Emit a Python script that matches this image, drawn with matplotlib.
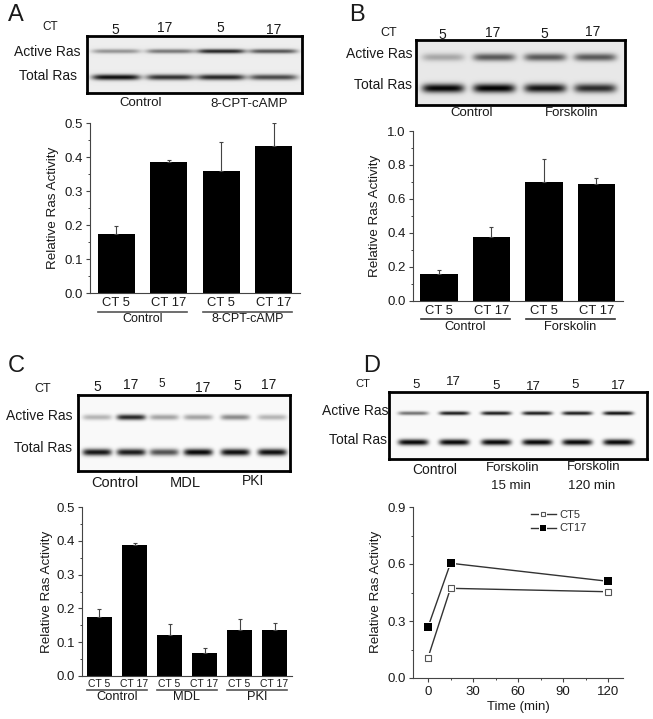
import numpy as np
import matplotlib
matplotlib.use("Agg")
import matplotlib.pyplot as plt
from matplotlib.legend_handler import HandlerTuple
from matplotlib.ticker import MultipleLocator

plt.rcParams['font.family'] = ['Liberation Sans', 'DejaVu Sans']

W, H = 653, 719

# Bar values
labels_2 = ["CT 5", "CT 17", "CT 5", "CT 17"]
labels_3 = ["CT 5", "CT 17", "CT 5", "CT 17", "CT 5", "CT 17"]

a_values = [0.174, 0.387, 0.360, 0.432]
a_errors = [0.025, 0.005, 0.085, 0.068]
a_groups = ["Control", "8-CPT-cAMP"]

b_values = [0.157, 0.373, 0.697, 0.690]
b_errors = [0.022, 0.059, 0.140, 0.031]
b_groups = ["Control", "Forskolin"]

c_values = [0.174, 0.387, 0.121, 0.068, 0.135, 0.135]
c_errors = [0.024, 0.006, 0.034, 0.015, 0.035, 0.023]
c_groups = ["Control", "MDL", "PKI"]

# Time course, panel D
d_time = [0, 15, 120]
d_ct5 = [0.107, 0.472, 0.454]
d_ct17 = [0.268, 0.604, 0.509]

# Band darkness on the blots, 0 = nothing, 1 = black
a_active = [0.38, 0.50, 0.85, 0.65]
a_total = [0.95, 0.80, 0.85, 0.70]
b_active = [0.28, 0.62, 0.62, 0.62]
b_total = [0.98, 1.00, 0.92, 0.82]
c_active = [0.28, 0.85, 0.35, 0.35, 0.45, 0.28]
c_total = [0.92, 0.90, 0.68, 0.98, 0.95, 0.95]
d_active = [0.55, 0.90, 0.90, 0.90, 0.90, 0.95]
d_total = [0.98, 0.98, 0.98, 0.98, 0.98, 0.98]

fig = plt.figure(figsize=(W / 100, H / 100), dpi=100)


def px_axes(left, top, right, bottom, **kw):
    return fig.add_axes([left / W, 1 - bottom / H, (right - left) / W, (bottom - top) / H], **kw)


def label(x, y, s, size=9.5, ha='center', **kw):
    fig.text(x / W, 1 - y / H, s, fontsize=size, ha=ha, va='center', color='#1a1a1a', **kw)


def draw_blot(frame, lanes, half_width, active_y, total_y, active, total, active_sy, total_sy, bg):
    left, top, right, bottom = frame
    ax = px_axes(left, top, right, bottom)
    yy, xx = np.mgrid[top:bottom:0.5, left:right:0.5]
    img = np.full(xx.shape, bg)
    for y0, dark, sy in [(active_y, active, active_sy), (total_y, total, total_sy)]:
        for x0, d in zip(lanes, dark):
            across = np.exp(-((xx - x0) / half_width) ** 6)
            down = np.exp(-((yy - y0) / sy) ** 2)
            img -= bg * d * across * down
    ax.imshow(img, cmap='gray', vmin=0, vmax=1, aspect='auto', extent=(left, right, bottom, top),
              interpolation='bilinear')
    ax.set_xticks([])
    ax.set_yticks([])
    for s in ax.spines.values():
        s.set_linewidth(2.0)
        s.set_color('black')


def style_axis(ax, major, minor, size=9.5):
    ax.spines['top'].set_visible(False)
    ax.spines['right'].set_visible(False)
    ax.spines['left'].set_color('#444444')
    ax.spines['bottom'].set_color('#444444')
    ax.yaxis.set_major_locator(MultipleLocator(major))
    ax.yaxis.set_minor_locator(MultipleLocator(minor))
    ax.tick_params(axis='y', which='major', length=3, width=0.8, color='#444444', labelsize=size,
                   labelcolor='#1a1a1a', pad=2)
    ax.tick_params(axis='y', which='minor', length=1.5, width=0.7, color='#444444')


def draw_bars(box, values, errors, ticks, groups, ymax, major, minor, tick_size, ylabel_x,
              line_y, group_y, line_color='#333333', group_size=9.3, tick_pad=3):
    ax = px_axes(*box)
    x = np.arange(1, len(values) + 1)
    ax.bar(x, values, width=0.71, color='black')
    ax.errorbar(x, values, yerr=[np.zeros(len(errors)), errors], fmt='none', ecolor='#444444',
                elinewidth=0.8, capsize=1.6, capthick=0.8)
    ax.set_xlim(0.5, len(values) + 0.5)
    ax.set_ylim(0, ymax)
    style_axis(ax, major, minor)
    ax.set_xticks(x, ticks)
    ax.tick_params(axis='x', length=0, labelsize=tick_size, labelcolor='#1a1a1a', pad=tick_pad)
    label(ylabel_x, (box[1] + box[3]) / 2, "Relative Ras Activity", size=9.7, rotation=90)
    # group underlines and names below the tick labels
    unit = (box[2] - box[0]) / len(values)
    for i, name in enumerate(groups):
        x0 = box[0] + unit * (2 * i + 0.15)
        x1 = box[0] + unit * (2 * i + 1.85)
        fig.add_artist(plt.Line2D([x0 / W, x1 / W], [1 - line_y / H, 1 - line_y / H],
                                  color=line_color, lw=1.2))
        label((x0 + x1) / 2, group_y, name, size=group_size)
    return ax


# Panel A
label(16, 15, "A", size=17)
draw_blot((87, 36, 302, 93), [116, 170, 221, 273], 24, 51, 77, a_active, a_total, 2.2, 2.8, 0.93)
label(50, 27, "CT", size=8.5)
for xt, yt, s in [(115, 30, "5"), (165, 28, "17"), (220, 28, "5"), (274, 30, "17")]:
    label(xt, yt, s, size=10)
label(80, 52, "Active Ras", size=10, ha='right')
label(77, 76, "Total Ras", size=10, ha='right')
label(141, 103, "Control", size=9.5)
label(249, 104, "8-CPT-cAMP", size=9.5)
draw_bars((90, 123.3, 300, 293.3), a_values, a_errors, labels_2, a_groups, 0.5, 0.1, 0.05, 9.4,
          53, 312, 319, line_color='#555555', group_size=9)

# Panel B
label(357, 15, "B", size=17)
draw_blot((416, 40, 625, 105), [443, 494, 545, 595], 21, 57, 88, b_active, b_total, 3.8, 4.4, 0.91)
label(389, 33, "CT", size=9)
for xt, yt, s in [(442, 35, "5"), (493, 33, "17"), (544, 34, "5"), (593, 32, "17")]:
    label(xt, yt, s, size=10)
label(412, 54, "Active Ras", size=10, ha='right')
label(412, 85, "Total Ras", size=10, ha='right')
label(472, 113, "Control", size=9.5)
label(572, 113, "Forskolin", size=9.5)
draw_bars((412.7, 131, 622.7, 300.7), b_values, b_errors, labels_2, b_groups, 1.0, 0.2, 0.1, 9.4,
          375, 319, 327)

# Panel C
label(16, 366, "C", size=17)
draw_blot((78, 395, 290, 471), [97, 131, 164, 198, 235, 272], 14.5, 417, 452, c_active, c_total, 2.8, 3.4, 0.98)
label(43, 389, "CT", size=9)
for xt, yt, s, sz in [(97, 387, "5", 10), (131, 385, "17", 10), (162, 384, "5", 8.5),
                      (203, 388, "17", 10), (237, 386, "5", 10), (269, 385, "17", 10)]:
    label(xt, yt, s, size=sz)
label(73, 416, "Active Ras", size=10, ha='right')
label(72, 448, "Total Ras", size=10, ha='right')
label(115, 483, "Control", size=10.5)
label(185, 483, "MDL", size=10.5)
label(253, 481, "PKI", size=10)
draw_bars((82, 507, 292, 676), c_values, c_errors, labels_3, c_groups, 0.5, 0.1, 0.05, 7.5,
          47, 690, 697.5, line_color='#555555', group_size=9.3, tick_pad=2)

# Panel D
label(372, 366, "D", size=17)
draw_blot((389, 392, 647, 459), [413, 454, 496, 537, 577, 618], 15, 413, 442, d_active, d_total, 1.9, 3.0, 0.98)
label(363, 384, "CT", size=8)
for xt, yt, s in [(416, 385, "5"), (453, 382, "17"), (496, 386, "5"), (533, 387, "17"),
                  (575, 385, "5"), (618, 386, "17")]:
    label(xt, yt, s, size=9.5)
label(388, 411, "Active Ras", size=10, ha='right')
label(387, 440, "Total Ras", size=10, ha='right')
label(435, 470, "Control", size=10)
label(513, 468, "Forskolin", size=9.5)
label(511, 486, "15 min", size=9.5)
label(594, 467, "Forskolin", size=9.5)
label(592, 486, "120 min", size=9.5)

ax = px_axes(413, 507, 623, 678)
line5, = ax.plot(d_time, d_ct5, color='#333333', lw=1.0, label="CT5", zorder=2)
line17, = ax.plot(d_time, d_ct17, color='#333333', lw=1.0, label="CT17", zorder=2)
# white squares under the markers leave the small gap where the line stops
halo5, = ax.plot(d_time, d_ct5, ls='none', marker='s', ms=7.5, color='white', mew=0, zorder=3)
halo17, = ax.plot(d_time, d_ct17, ls='none', marker='s', ms=7.5, color='white', mew=0, zorder=3)
mark5, = ax.plot(d_time, d_ct5, ls='none', marker='s', ms=4.4, mfc='white', mec='#555555', mew=0.8, zorder=4)
mark17, = ax.plot(d_time, d_ct17, ls='none', marker='s', ms=5.2, color='black', mew=0, zorder=4)
ax.set_xlim(-10, 130)
ax.set_ylim(0, 0.9)
style_axis(ax, 0.3, 0.15)
ax.xaxis.set_major_locator(MultipleLocator(30))
ax.xaxis.set_minor_locator(MultipleLocator(15))
ax.tick_params(axis='x', which='major', length=3, width=0.8, color='#444444', labelsize=9.5,
               labelcolor='#1a1a1a', pad=2.5)
ax.tick_params(axis='x', which='minor', length=1.5, width=0.7, color='#444444')
label(376, 592, "Relative Ras Activity", size=9.7, rotation=90)
label(518, 707, "Time (min)", size=9.5)
ax.legend([(line5, halo5, mark5), (line17, halo17, mark17)], ["CT5", "CT17"],
          handler_map={tuple: HandlerTuple(ndivide=1, pad=0)}, numpoints=1, markerscale=0.7,
          frameon=False, fontsize=8, handlelength=2.3, handletextpad=0.25, labelspacing=0.35,
          loc='upper left', bbox_to_anchor=(0.56, 0.985), borderpad=0, borderaxespad=0,
          labelcolor='#333333')

fig.savefig("out.png", dpi=100)
